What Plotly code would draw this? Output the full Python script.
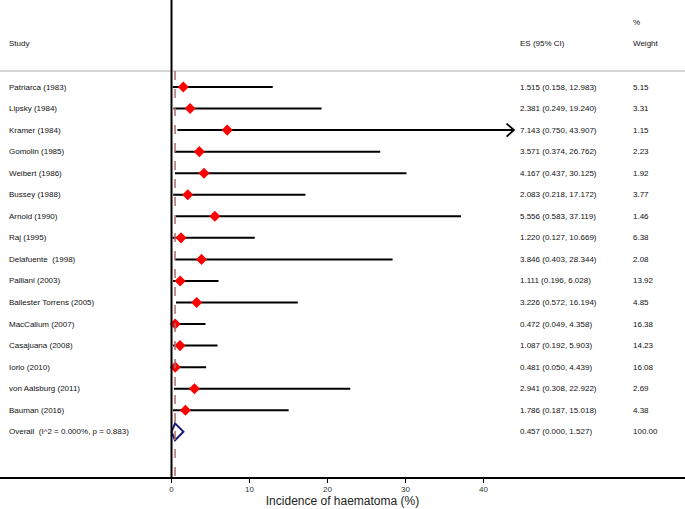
import plotly.graph_objects as go

studies = ["Patriarca (1983)", "Lipsky (1984)", "Kramer (1984)", "Gomolin (1985)",
           "Weibert (1986)", "Bussey (1988)", "Arnold (1990)", "Raj (1995)",
           "Delafuente  (1998)", "Palliani (2003)", "Ballester Torrens (2005)",
           "MacCallum (2007)", "Casajuana (2008)", "Iorio (2010)",
           "von Aalsburg (2011)", "Bauman (2016)"]
es = [1.515, 2.381, 7.143, 3.571, 4.167, 2.083, 5.556, 1.220, 3.846, 1.111,
      3.226, 0.472, 1.087, 0.481, 2.941, 1.786]
lo = [0.158, 0.249, 0.750, 0.374, 0.437, 0.218, 0.583, 0.127, 0.403, 0.196,
      0.572, 0.049, 0.192, 0.050, 0.308, 0.187]
hi = [12.983, 19.240, 43.907, 26.762, 30.125, 17.172, 37.119, 10.669, 28.344,
      6.028, 16.194, 4.358, 5.903, 4.439, 22.922, 15.018]
weights = ["5.15", "3.31", "1.15", "2.23", "1.92", "3.77", "1.46", "6.38", "2.08",
           "13.92", "4.85", "16.38", "14.23", "16.08", "2.69", "4.38"]
overall_label = "Overall  (I^2 = 0.000%, p = 0.883)"
overall_es, overall_lo, overall_hi = 0.457, 0.000, 1.527
overall_weight = "100.00"
tick_vals = [0, 10, 20, 30, 40]
x_title = "Incidence of haematoma (%)"

W, H = 685, 509
x0px, pxunit = 171.5, 7.8
row0px, rowpx = 87, 21.55
axis_px = 477

xr = [-x0px / pxunit, (W - x0px) / pxunit]
yr = [-(axis_px - row0px) / rowpx, row0px / rowpx]

n = len(studies)
ys = [-i for i in range(n)]
y_over = -n

FONT = "Liberation Sans, Arial, sans-serif"
fig = go.Figure()

fig.add_trace(go.Scatter(
    x=es, y=ys, mode="markers",
    marker=dict(symbol="diamond", size=8.5, color="red"),
    error_x=dict(type="data", symmetric=False,
                 array=[h - e for h, e in zip(hi, es)],
                 arrayminus=[e - l for e, l in zip(es, lo)],
                 color="black", thickness=2, width=0),
    hoverinfo="skip", showlegend=False))

ax_max = max(tick_vals)
for y, h in zip(ys, hi):
    if h > ax_max:
        fig.add_trace(go.Scatter(
            x=[h - 0.95, h, h - 0.95], y=[y + 0.3, y, y - 0.3],
            mode="lines", line=dict(color="black", width=1.8),
            hoverinfo="skip", showlegend=False))

dh = 0.39
fig.add_trace(go.Scatter(
    x=[overall_lo, overall_es, overall_hi, overall_es, overall_lo],
    y=[y_over, y_over + dh, y_over, y_over - dh, y_over],
    mode="lines", line=dict(color="#1a1a7a", width=2),
    hoverinfo="skip", showlegend=False))

hline_y = (row0px - 71) / rowpx
shapes = [
    dict(type="line", xref="paper", yref="y", x0=0, x1=1,
         y0=hline_y, y1=hline_y, line=dict(color="#c8c8c8", width=1.5)),
    dict(type="line", xref="x", yref="paper", x0=0, x1=0, y0=0, y1=1,
         line=dict(color="black", width=2)),
    dict(type="line", xref="x", yref="y", x0=overall_es, x1=overall_es,
         y0=hline_y, y1=yr[0],
         line=dict(color="#b06a6a", width=1.5, dash="dash")),
]

ann = []
def txt(x, y, s, size=8):
    ann.append(dict(x=x, y=y, xref="paper", yref="y", text=s, showarrow=False,
                    xanchor="left", yanchor="middle",
                    font=dict(family=FONT, size=size, color="#111")))

hdr = (row0px - 43) / rowpx
hdr2 = (row0px - 22) / rowpx
c1, c2, c3 = 7 / W, 518 / W, 631 / W
txt(c1, hdr, "Study")
txt(c2, hdr, "ES (95% CI)")
txt(c3, hdr2, "%")
txt(c3, hdr, "Weight")
for y, s, e, l, h, w in zip(ys, studies, es, lo, hi, weights):
    txt(c1, y, s)
    txt(c2, y, f"{e:.3f} ({l:.3f}, {h:.3f})")
    txt(c3, y, w)
txt(c1, y_over, overall_label)
txt(c2, y_over, f"{overall_es:.3f} ({overall_lo:.3f}, {overall_hi:.3f})")
txt(c3, y_over, overall_weight)

fig.update_layout(
    width=W, height=H, margin=dict(l=0, r=0, t=0, b=H - axis_px),
    plot_bgcolor="white", paper_bgcolor="white",
    shapes=shapes, annotations=ann,
    xaxis=dict(range=xr, tickvals=tick_vals, ticks="outside", ticklen=4,
               tickcolor="black", tickwidth=1,
               tickfont=dict(family=FONT, size=8, color="#333"),
               showline=True, linecolor="black", linewidth=1.5,
               showgrid=False, zeroline=False, fixedrange=True,
               title=dict(text=x_title, standoff=2,
                          font=dict(family=FONT, size=12, color="#222"))),
    yaxis=dict(range=yr, visible=False, showgrid=False, zeroline=False,
               fixedrange=True),
)

fig.write_html("out.html", config={"displayModeBar": False},
               post_script="document.body.style.margin='0';document.body.style.overflow='hidden';")
